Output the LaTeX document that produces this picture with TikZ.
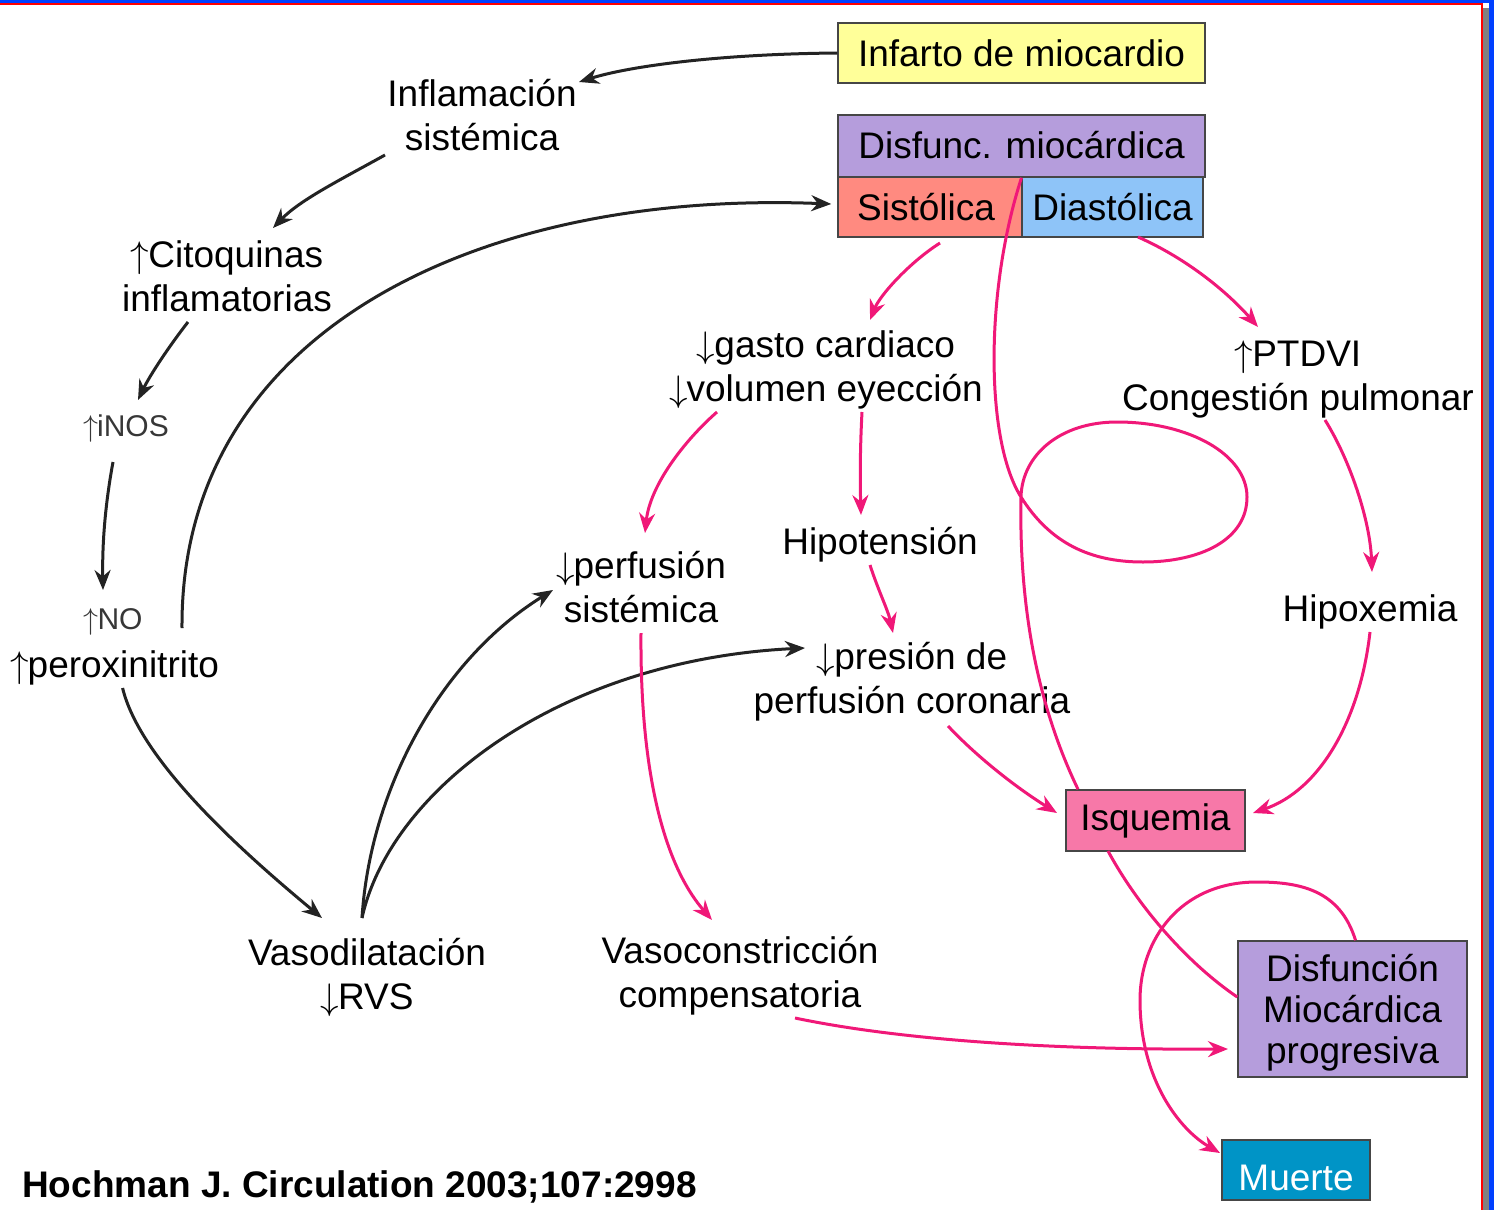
\documentclass[tikz,border=0pt]{standalone}
\usepackage{fix-cm}
\usepackage{fontspec}
\setmainfont{Liberation Sans}
\usetikzlibrary{arrows.meta,calc}
\definecolor{pk}{RGB}{240,24,120}
\definecolor{dk}{RGB}{35,35,35}
\definecolor{smt}{RGB}{55,55,55}
\definecolor{boxline}{RGB}{70,70,70}
\definecolor{yel}{RGB}{255,255,153}
\definecolor{lav}{RGB}{181,157,220}
\definecolor{sal}{RGB}{255,138,128}
\definecolor{lblue}{RGB}{142,196,248}
\definecolor{isqc}{RGB}{247,120,168}
\definecolor{mue}{RGB}{0,148,198}
\definecolor{frblue}{RGB}{0,64,255}
\definecolor{frred}{RGB}{255,0,0}
\definecolor{frgray}{RGB}{128,128,128}
\newcommand\zz{\rule[-9pt]{0pt}{44pt}}
\newcommand\bigf{\fontsize{37}{44}\selectfont}
\newcommand\boxf{\fontsize{37}{41}\selectfont}
\newcommand\up{$\uparrow$\kern-1pt}
\newcommand\dn{$\downarrow$\kern-1pt}
\setlength{\lineskiplimit}{-100pt}
\begin{document}
\begin{tikzpicture}[x=1pt,y=-1pt,
  txt/.style={inner sep=0pt,align=center,font=\bigf},
  sml/.style={inner sep=0pt,font=\fontsize{30}{36}\selectfont,text=smt},
  bx/.style={draw=boxline,line width=1.5pt,inner sep=0pt,align=center,font=\boxf},
  blk/.style={draw=dk,line width=3pt,-{Stealth[length=20pt,width=16pt]}},
  pkl/.style={draw=pk,line width=3pt},
  pka/.style={pkl,-{Stealth[length=20pt,width=16pt]}}]
\useasboundingbox (0,0) rectangle (1494,1210);
% frame
\fill[frblue] (0,0) rectangle (1494,2.5);
\fill[frred] (0,2.5) rectangle (1483,4.5);
\fill[frblue] (1489,0) rectangle (1494,1210);
\fill[frgray] (1483,8) rectangle (1489,1210);
\fill[frred] (1480.5,2.5) rectangle (1483,1210);

% boxes
\node[bx,fill=yel,minimum width=367pt,minimum height=60pt] (inf) at (1021.5,53) {Infarto de miocardio};
\node[bx,fill=lav,minimum width=367pt,minimum height=62pt] (disf) at (1021.5,146) {\raisebox{3pt}{Disfunc. miocárdica}};
\node[bx,fill=sal,minimum width=184pt,minimum height=60pt] (sist) at (930,207) {\hspace*{-8pt}Sistólica};
\node[bx,fill=lblue,minimum width=181pt,minimum height=60pt] (diast) at (1112.5,207) {Diastólica};
\node[bx,fill=isqc,minimum width=179pt,minimum height=61pt] (isq) at (1155.5,820.5) {Isquemia};
\node[bx,fill=lav,minimum width=229pt,minimum height=136pt] (dmp) at (1352.5,1009) {\zz Disfunción\\\zz Miocárdica\\\zz progresiva};
\node[bx,fill=mue,text=white,minimum width=148pt,minimum height=60pt] (muerte) at (1296,1170) {\rule[-2pt]{0pt}{44pt}Muerte};

% text nodes
\node[txt] (infl) at (482,115) {\zz Inflamación\\\zz sistémica};
\node[txt] (cito) at (227,276.5) {\zz \up Citoquinas\\\zz inflamatorias};
\node[sml] (inos) at (126,429) {\up iNOS};
\node[sml] (no) at (113,622) {\up NO};
\node[txt,anchor=west] (perox) at (10,664) {\zz \up peroxinitrito};
\node[txt] (gasto) at (826,366.5) {\zz \dn gasto cardiaco\\\zz \dn volumen eyección};
\node[txt] (ptdvi) at (1298,375) {\zz \up PTDVI\\\zz Congestión pulmonar};
\node[txt] (hipot) at (880,541) {\zz Hipotensión};
\node[txt] (perf) at (641,587) {\zz \dn perfusión\\\zz sistémica};
\node[txt] (hipox) at (1370,608) {\zz Hipoxemia};
\node[txt] (pres) at (912,678.5) {\zz \dn presión de\\\zz perfusión coronaria};
\node[txt] (vasod) at (367,974) {\zz Vasodilatación\\\zz \dn RVS};
\node[txt] (vasoc) at (740,972.5) {\zz Vasoconstricción\\\zz compensatoria};
\node[txt,anchor=west,font=\bigf\bfseries] (ref) at (22,1184) {\zz Hochman J. Circulation 2003;107:2998};

% black connectors
\draw[blk] (inf.west) .. controls (720,54) and (630,66) .. ($(infl)+(97,-33)$);
\draw[blk] ($(infl)+(-97,40)$) .. controls (340,180) and (300,200) .. ($(cito)+(46,-48.5)$);
\draw[blk] ($(cito)+(-39,45.5)$) .. controls (170,345) and (150,375) .. ($(inos)+(12,-29)$);
\draw[blk] ($(inos)+(-13,33)$) .. controls (106,500) and (102,540) .. ($(no)+(-10,-32)$);
\draw[blk] ($(no)+(69,6)$) .. controls (180,330) and (480,190) .. ($(sist.west)+(-6,-3)$);
\draw[blk] ($(perox)+(8,24)$) .. controls (140,760) and (240,850) .. ($(vasod)+(-45,-56)$);
\draw[blk] ($(vasod)+(-5,-56)$) .. controls (370,790) and (440,660) .. ($(perf)+(-88,3)$);
\draw[blk] ($(vasod)+(-5,-56)$) .. controls (390,790) and (560,660) .. ($(pres)+(-107,-30.5)$);

% pink connectors
\draw[pka] ($(sist)+(10,36)$) .. controls (910,262) and (880,295) .. ($(gasto)+(44,-46.5)$);
\draw[pka] ($(diast)+(25.5,30)$) .. controls (1190,260) and (1230,295) .. ($(ptdvi)+(-40,-48)$);
\draw[pkl] (disf.south) .. controls (985,290) and (985,440) .. (1021,497)
  .. controls (1050,543) and (1090,562) .. (1143,562)
  .. controls (1200,562) and (1247,540) .. (1247,497)
  .. controls (1247,455) and (1190,422) .. (1117,422)
  .. controls (1060,422) and (1022,455) .. (1021,497)
  .. controls (1019,600) and (1035,700) .. ($(isq.north)+(-77.5,0)$);
\draw[pka] ($(gasto)+(-109,45.5)$) .. controls (685,440) and (650,485) .. ($(perf)+(4,-54)$);
\draw[pka] ($(gasto)+(36,45.5)$) .. controls (860,450) and (860,480) .. ($(hipot)+(-19,-26)$);
\draw[pka] ($(hipot)+(-10,24)$) .. controls (878,590) and (888,610) .. ($(pres)+(-19,-45.5)$);
\draw[pka] ($(ptdvi)+(27,45)$) .. controls (1350,460) and (1370,520) .. ($(hipox)+(2,-36)$);
\draw[pka] ($(hipox)+(0,24)$) .. controls (1360,720) and (1320,790) .. ($(isq)+(97.5,-7.5)$);
\draw[pka] ($(pres)+(36,47.5)$) .. controls (980,760) and (1020,790) .. ($(isq)+(-98.5,-7.5)$);
\draw[pka] ($(perf)+(0,46)$) .. controls (640,760) and (660,860) .. ($(vasoc)+(-28,-52.5)$);
\draw[pka] ($(vasoc)+(55,45.5)$) .. controls (900,1040) and (1050,1050) .. ($(dmp)+(-124.5,40)$);
\draw[pkl] ($(isq)+(-47.5,30.5)$) .. controls (1140,910) and (1190,965) .. ($(dmp.west)+(0,-12)$);
\draw[pka] ($(dmp.north)+(3,0)$) .. controls (1340,890) and (1300,882) .. (1257,882)
  .. controls (1180,882) and (1140,940) .. (1140,1000)
  .. controls (1140,1080) and (1180,1130) .. ($(muerte)+(-76,-17)$);
\end{tikzpicture}
\end{document}
